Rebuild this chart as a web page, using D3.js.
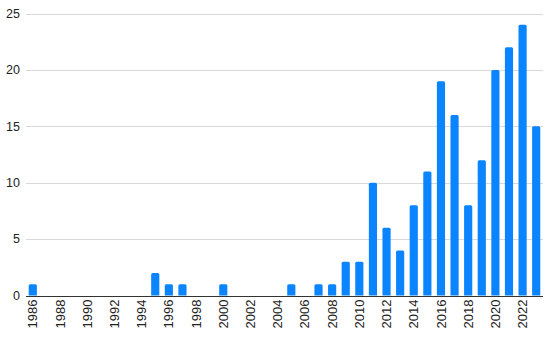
<html>
<head>
<script src="https://d3js.org/d3.v7.min.js"></script>
<style>
  body { margin: 0; background: #fff; }
  text { font-family: "Liberation Sans", Arial, sans-serif; }
</style>
</head>
<body>
<script>
var years = d3.range(1986, 2024)
var counts = [1, 0, 0, 0, 0, 0, 0, 0, 0, 2, 1, 1, 0, 0, 1, 0, 0, 0, 0, 1,
              0, 1, 1, 3, 3, 10, 6, 4, 8, 11, 19, 16, 8, 12, 20, 22, 24, 15]
var yTicks = [0, 5, 10, 15, 20, 25]
var xLabels = years.filter(function(d) { return d % 2 == 0 })

var width = 550, height = 341
var margin = {top: 13, right: 7, bottom: 45, left: 26}

var svg = d3.select("body").append("svg")
  .attr("width", width)
  .attr("height", height)

var x = d3.scaleBand()
  .domain(years)
  .range([margin.left, width - margin.right])
  .paddingInner(0.4)
  .paddingOuter(0.2)

var y = d3.scaleLinear()
  .domain([0, 25])
  .range([height - margin.bottom - 0.5, margin.top + 0.5])

// grid
svg.append("g")
  .selectAll("line")
  .data(yTicks.slice(1))
  .enter().append("line")
    .attr("x1", margin.left)
    .attr("x2", width - margin.right)
    .attr("y1", function(d) { return Math.round(y(d)) + 0.5 })
    .attr("y2", function(d) { return Math.round(y(d)) + 0.5 })
    .attr("stroke", "#d9d9d9")
    .attr("stroke-width", 1)

svg.append("g")
  .selectAll("text")
  .data(yTicks)
  .enter().append("text")
    .attr("x", margin.left - 6)
    .attr("y", function(d) { return y(d) })
    .attr("dy", "0.35em")
    .attr("text-anchor", "end")
    .attr("font-size", 12.5)
    .attr("fill", "#222")
    .text(function(d) { return d })

// bars, rounded tops
var r = 1.5
svg.append("g")
  .selectAll("path")
  .data(years.map(function(d, i) { return {year: d, n: counts[i]} }).filter(function(d) { return d.n > 0 }))
  .enter().append("path")
    .attr("fill", "#0a84ff")
    .attr("d", function(d) {
      var x0 = x(d.year), w = x.bandwidth(), y0 = y(0), y1 = y(d.n)
      return "M" + x0 + "," + y0 +
        "V" + (y1 + r) +
        "Q" + x0 + "," + y1 + " " + (x0 + r) + "," + y1 +
        "H" + (x0 + w - r) +
        "Q" + (x0 + w) + "," + y1 + " " + (x0 + w) + "," + (y1 + r) +
        "V" + y0 + "Z"
    })

// baseline
svg.append("line")
  .attr("x1", margin.left)
  .attr("x2", width - margin.right)
  .attr("y1", Math.round(y(0)) + 0.5)
  .attr("y2", Math.round(y(0)) + 0.5)
  .attr("stroke", "#333")
  .attr("stroke-width", 1)

svg.append("g")
  .selectAll("text")
  .data(xLabels)
  .enter().append("text")
    .attr("transform", function(d) {
      return "translate(" + (x(d) + x.bandwidth() / 2) + "," + (y(0) + 4) + ") rotate(-90)"
    })
    .attr("dy", "0.35em")
    .attr("text-anchor", "end")
    .attr("font-size", 13)
    .attr("fill", "#222")
    .text(function(d) { return d })
</script>
</body>
</html>
